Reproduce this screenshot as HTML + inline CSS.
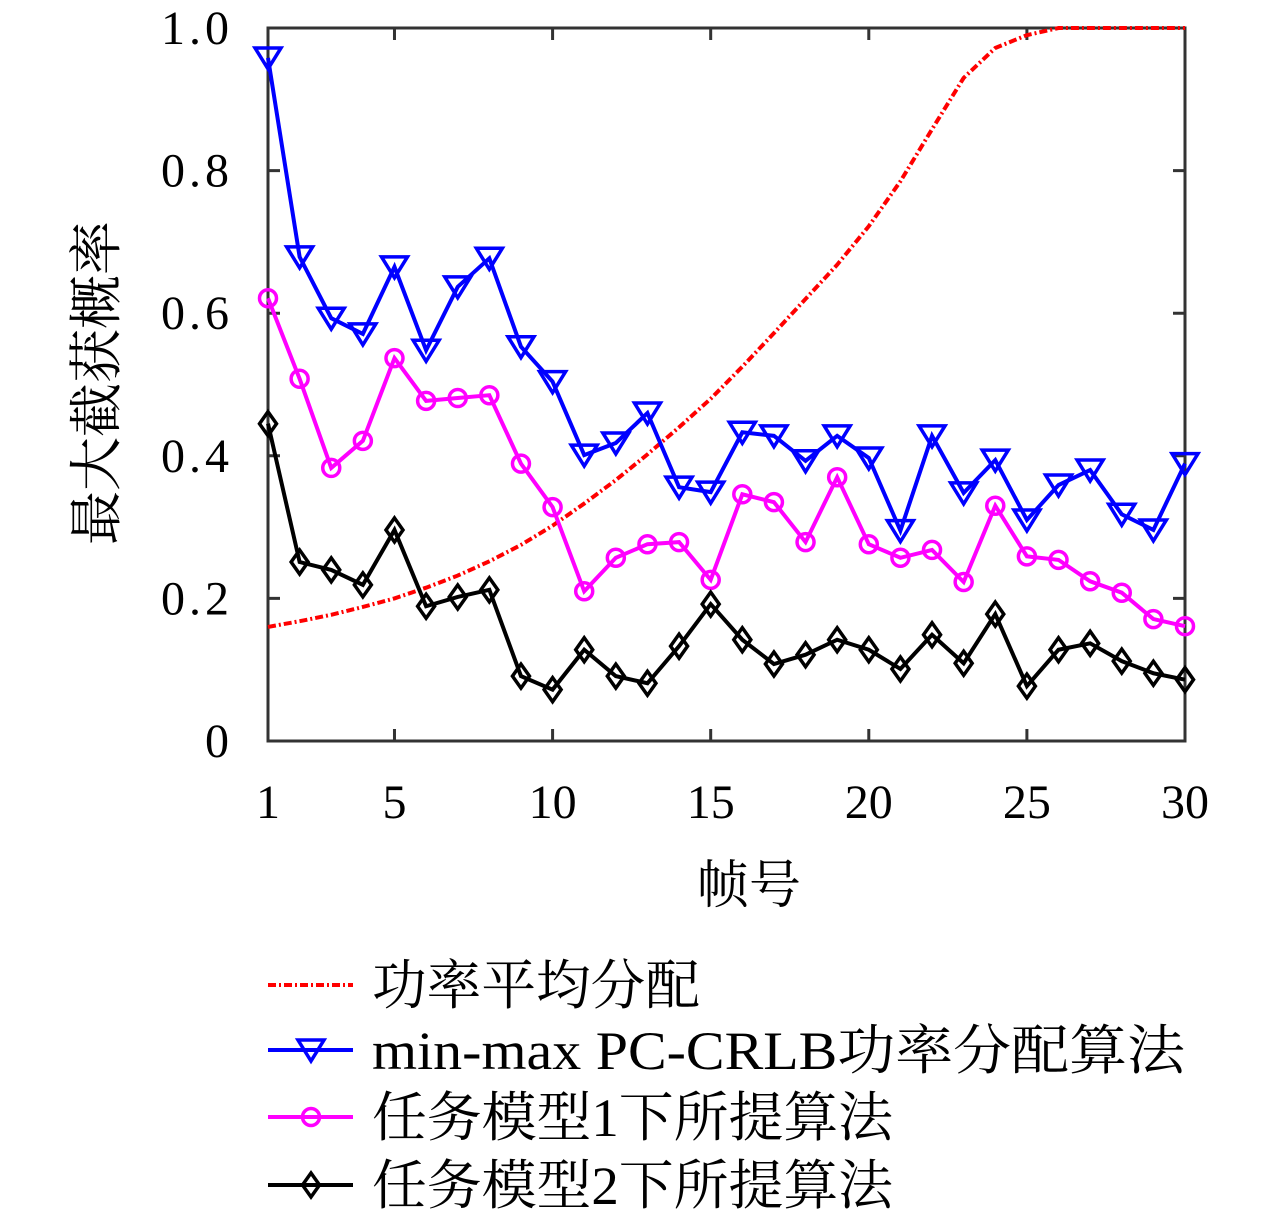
<!DOCTYPE html>
<html><head><meta charset="utf-8"><style>
body{margin:0;background:#fff;}
svg{display:block;font-family:"Liberation Serif","Noto Serif CJK SC",serif;}
</style></head><body>
<svg id="chart" width="1280" height="1217" viewBox="0 0 1280 1217" xmlns="http://www.w3.org/2000/svg">
<g id="axes"></g>
<g id="series"></g>
<text x="749" y="903" font-size="52" text-anchor="middle">帧号</text>
<text transform="translate(115,383) rotate(-90)" font-size="54" text-anchor="middle">最大截获概率</text>
<g id="legend"></g>
</svg>
<script>
const frames=[];for(let i=1;i<=30;i++)frames.push(i);
const equalPower=[0.160,0.168,0.177,0.188,0.200,0.215,0.232,0.252,0.275,0.302,0.333,0.366,0.402,0.440,0.480,0.525,0.572,0.620,0.668,0.722,0.785,0.858,0.930,0.972,0.990,1,1,1,1,1];
const minMax=[0.958,0.679,0.593,0.571,0.665,0.548,0.637,0.677,0.553,0.504,0.401,0.418,0.460,0.356,0.349,0.433,0.428,0.393,0.428,0.397,0.295,0.428,0.348,0.394,0.310,0.359,0.380,0.318,0.296,0.389];
const model1=[0.621,0.508,0.383,0.421,0.537,0.477,0.481,0.485,0.389,0.328,0.210,0.257,0.276,0.279,0.226,0.346,0.335,0.279,0.370,0.276,0.257,0.268,0.223,0.330,0.259,0.254,0.224,0.208,0.171,0.161];
const model2=[0.445,0.251,0.240,0.219,0.296,0.189,0.202,0.212,0.091,0.072,0.128,0.091,0.081,0.133,0.192,0.142,0.108,0.121,0.142,0.128,0.101,0.149,0.109,0.178,0.077,0.128,0.137,0.112,0.095,0.086];
const xTicks=[1,5,10,15,20,25,30];
const yTicks=[0,0.2,0.4,0.6,0.8,1.0];
const yTickLabels=["0","0.2","0.4","0.6","0.8","1.0"];
const legendLabels=["功率平均分配","min-max PC-CRLB功率分配算法","任务模型1下所提算法","任务模型2下所提算法"];
const legendWidths=[328,813,521,521];

const L=268,R=1185,T=28,B=741;
const xs=v=>L+(v-1)*(R-L)/29;
const ys=v=>B-v*(B-T);
const NS="http://www.w3.org/2000/svg";
function mk(tag,attrs,parent){const e=document.createElementNS(NS,tag);for(const k in attrs)e.setAttribute(k,attrs[k]);parent.appendChild(e);return e;}
const axes=document.getElementById('axes');
const fr=mk('rect',{x:L,y:T,width:R-L,height:B-T,fill:'none',stroke:'#333','stroke-width':3},axes);


xTicks.forEach(t=>{
  const x=xs(t);
  const a=mk('path',{d:`M${x},${B}V${B-12}M${x},${T}V${T+12}`,stroke:'#333','stroke-width':3},axes);
  
  
  const tx=mk('text',{x:x,y:818,'font-size':48,'text-anchor':'middle'},axes);tx.textContent=t;
  
  
});
yTicks.forEach((t,i)=>{
  const y=ys(t);
  const a=mk('path',{d:`M${L},${y}H${L+12}M${R},${y}H${R-12}`,stroke:'#333','stroke-width':3},axes);
  
  
  const tx=mk('text',{x:229,y:y+16,'font-size':48,'text-anchor':'end'},axes);tx.textContent=yTickLabels[i];
  if(yTickLabels[i].length===3)tx.setAttribute('textLength',68);
  
  
});
function marker(type,x,y,color,parent){
  let e;
  if(type==='tri') e=mk('path',{d:`M${x-13},${y-10}H${x+13}L${x},${y+11}Z`,fill:'none',stroke:color,'stroke-width':3.5},parent);
  else if(type==='circ') e=mk('circle',{cx:x,cy:y,r:8.5,fill:'none',stroke:color,'stroke-width':3.5},parent);
  else e=mk('path',{d:`M${x},${y-12}L${x+8.5},${y}L${x},${y+12}L${x-8.5},${y}Z`,fill:'none',stroke:color,'stroke-width':3.5},parent);
  return e;
}
const ser=document.getElementById('series');
const defs=[
 {name:'equal-power-line',data:equalPower,color:'#ff0000',dash:'8,3,2,3',m:null},
 {name:'min-max-line',data:minMax,color:'#0000ff',m:'tri'},
 {name:'model1-line',data:model1,color:'#ff00ff',m:'circ'},
 {name:'model2-line',data:model2,color:'#000000',m:'dia'}
];
defs.forEach(s=>{
  const g=mk('g',{},ser);
  
  
  const pts=s.data.map((v,i)=>xs(frames[i])+','+ys(v)).join(' ');
  const pl=mk('polyline',{points:pts,fill:'none',stroke:s.color,'stroke-width':4},g);
  if(s.dash)pl.setAttribute('stroke-dasharray',s.dash);
  if(s.m)s.data.forEach((v,i)=>{
    const e=marker(s.m,xs(frames[i]),ys(v),s.color,g);
    
    
  });
});
const lg=document.getElementById('legend');
const rows=[985,1050,1117,1185];
defs.forEach((s,i)=>{
  const g=mk('g',{},lg);
  
  
  const y=rows[i];
  const ln=mk('path',{d:`M268,${y}H353`,stroke:s.color,'stroke-width':4},g);
  if(s.dash)ln.setAttribute('stroke-dasharray',s.dash);
  if(s.m)marker(s.m,311,y,s.color,g);
  const t=mk('text',{x:372,y:y+19,'font-size':54,textLength:legendWidths[i],lengthAdjust:'spacingAndGlyphs'},g);t.textContent=legendLabels[i];
});
</script>
</body></html>
